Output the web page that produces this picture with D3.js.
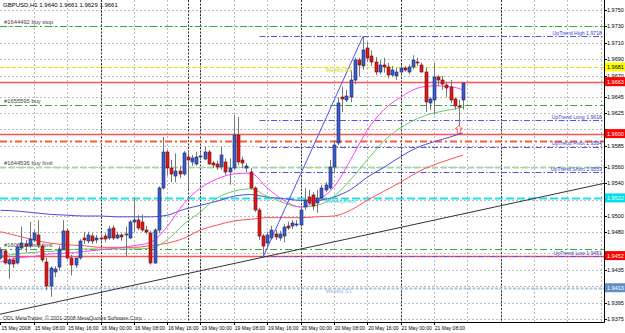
<!DOCTYPE html>
<html>
<head>
<meta charset="utf-8">
<script src="https://cdn.jsdelivr.net/npm/d3@7/dist/d3.min.js"></script>
<style>
  body { margin: 0; background: #fff; }
  text { font-family: "Liberation Sans", Arial, sans-serif; }
</style>
</head>
<body>
<div id="chart"></div>
<script>
// GBPUSD H1 candles, bar 0 = 15 May 2008 00:00
const opens = [
  1.9449,1.9457,1.9442,1.9447,1.9443,1.9461,1.9466,1.9464,1.9471,1.9477,
  1.9464,1.9444,1.9415,1.9432,1.9438,1.9460,1.9482,1.9449,1.9441,1.9449,
  1.9473,1.9470,1.9476,1.9470,1.9473,1.9476,1.9473,1.9485,1.9473,1.9477,
  1.9477,1.9474,1.9493,1.9495,1.9493,1.9483,1.9479,1.9443,1.9483,1.9534,
  1.9578,1.9558,1.9549,1.9555,1.9551,1.9572,1.9565,1.9564,1.9572,1.9570,
  1.9578,1.9564,1.9563,1.9559,1.9565,1.9553,1.9558,1.9598,1.9568,1.9558,
  1.9553,1.9534,1.9507,1.9476,1.9467,1.9473,1.9478,1.9473,1.9476,1.9488,
  1.9487,1.9490,1.9489,1.9510,1.9523,1.9526,1.9516,1.9522,1.9532,1.9534,
  1.9559,1.9589,1.9644,1.9641,1.9644,1.9665,1.9689,1.9681,1.9704,1.9694,
  1.9687,1.9675,1.9683,1.9681,1.9671,1.9670,1.9675,1.9680,1.9675,1.9681,
  1.9687,1.9683,1.9675,1.9637,1.9641,1.9669,1.9665,1.9659,1.9657,1.9642,
  1.9633,1.9640];
const highs = [
  1.9462,1.9460,1.9449,1.9450,1.9465,1.9487,1.9471,1.9493,1.9483,1.9495,
  1.9466,1.9449,1.9439,1.9439,1.9464,1.9495,1.9485,1.9453,1.9449,1.9472,
  1.9481,1.9481,1.9479,1.9477,1.9477,1.9479,1.9488,1.9489,1.9481,1.9479,
  1.9487,1.9495,1.9522,1.9501,1.9502,1.9488,1.9482,1.9485,1.9536,1.9596,
  1.9580,1.9568,1.9576,1.9561,1.9579,1.9580,1.9574,1.9578,1.9578,1.9584,
  1.9580,1.9567,1.9567,1.9584,1.9570,1.9570,1.9623,1.9620,1.9572,1.9564,
  1.9558,1.9536,1.9510,1.9478,1.9481,1.9488,1.9483,1.9482,1.9490,1.9493,
  1.9495,1.9495,1.9511,1.9534,1.9532,1.9529,1.9532,1.9538,1.9541,1.9568,
  1.9592,1.9644,1.9657,1.9653,1.9677,1.9692,1.9692,1.9718,1.9711,1.9701,
  1.9693,1.9689,1.9692,1.9686,1.9682,1.9680,1.9683,1.9682,1.9684,1.9695,
  1.9692,1.9686,1.9680,1.9644,1.9686,1.9671,1.9670,1.9663,1.9665,1.9644,
  1.9641,1.9661];
const lows = [
  1.9447,1.9441,1.9424,1.9437,1.9441,1.9459,1.9456,1.9461,1.9468,1.9462,
  1.9444,1.9410,1.9402,1.9426,1.9434,1.9459,1.9447,1.9428,1.9437,1.9447,
  1.9466,1.9467,1.9466,1.9467,1.9470,1.9468,1.9471,1.9471,1.9472,1.9470,
  1.9451,1.9472,1.9481,1.9483,1.9481,1.9478,1.9441,1.9442,1.9479,1.9532,
  1.9549,1.9541,1.9541,1.9546,1.9549,1.9532,1.9561,1.9561,1.9568,1.9568,
  1.9562,1.9558,1.9556,1.9556,1.9550,1.9538,1.9556,1.9562,1.9558,1.9553,
  1.9532,1.9505,1.9471,1.9450,1.9462,1.9471,1.9471,1.9470,1.9468,1.9483,
  1.9484,1.9487,1.9487,1.9507,1.9513,1.9507,1.9504,1.9519,1.9529,1.9532,
  1.9553,1.9586,1.9626,1.9638,1.9638,1.9660,1.9669,1.9677,1.9687,1.9682,
  1.9671,1.9672,1.9674,1.9667,1.9669,1.9665,1.9672,1.9675,1.9672,1.9678,
  1.9682,1.9674,1.9626,1.9629,1.9623,1.9658,1.9653,1.9644,1.9637,1.9629,
  1.9609,1.9629];
const closes = [
  1.9459,1.9443,1.9447,1.9442,1.9462,1.9467,1.9464,1.9472,1.9479,1.9465,
  1.9447,1.9415,1.9437,1.9436,1.9460,1.9482,1.9449,1.9441,1.9449,1.9470,
  1.9470,1.9477,1.9470,1.9473,1.9472,1.9472,1.9484,1.9473,1.9477,1.9474,
  1.9478,1.9493,1.9495,1.9485,1.9483,1.9481,1.9443,1.9483,1.9534,1.9578,
  1.9558,1.9551,1.9555,1.9551,1.9576,1.9568,1.9570,1.9572,1.9573,1.9578,
  1.9564,1.9562,1.9559,1.9574,1.9553,1.9558,1.9598,1.9565,1.9564,1.9561,
  1.9534,1.9507,1.9476,1.9464,1.9477,1.9483,1.9474,1.9478,1.9487,1.9485,
  1.9491,1.9490,1.9507,1.9519,1.9516,1.9513,1.9522,1.9534,1.9538,1.9559,
  1.9586,1.9637,1.9642,1.9646,1.9665,1.9689,1.9683,1.9701,1.9692,1.9687,
  1.9675,1.9683,1.9681,1.9671,1.9677,1.9675,1.9680,1.9677,1.9681,1.9689,
  1.9686,1.9675,1.9638,1.9642,1.9669,1.9665,1.9660,1.9655,1.9641,1.9633,
  1.9632,1.9661];

// moving averages
const maBars  = [0,4,8,12,16,20,24,28,32,36,40,44,48,52,56,60,64,68,72,76,80,84,88,92,96,100,104,108,111];
const maPink  = [1.9444,1.9449,1.9451,1.9454,1.9455,1.9457,1.9459,1.9461,1.9464,1.9468,1.9487,1.9515,1.9534,1.9545,1.9551,1.9552,1.9534,1.9519,1.9511,1.9519,1.9535,1.9568,1.9604,1.9629,1.9644,1.9655,1.9658,1.9657,1.9653];
const maGreen = [1.9451,1.9454,1.9456,1.9457,1.9459,1.9460,1.9460,1.9460,1.9460,1.9461,1.9471,1.9490,1.9505,1.9522,1.9530,1.9533,1.9524,1.9516,1.9511,1.9513,1.9524,1.9544,1.9568,1.9591,1.9607,1.9618,1.9625,1.9629,1.9632];
const maBlue  = [1.9507,1.9506,1.9504,1.9502,1.9501,1.9500,1.9500,1.9499,1.9499,1.9499,1.9501,1.9508,1.9513,1.9518,1.9524,1.9526,1.9523,1.9521,1.9519,1.9519,1.9523,1.9532,1.9547,1.9559,1.9572,1.9583,1.9590,1.9596,1.9601];
const maRed   = [1.9481,1.9476,1.9471,1.9467,1.9465,1.9464,1.9462,1.9462,1.9462,1.9464,1.9467,1.9473,1.9483,1.9489,1.9494,1.9496,1.9498,1.9498,1.9498,1.9499,1.9500,1.9507,1.9519,1.9530,1.9541,1.9553,1.9562,1.9569,1.9574];

// axes
const yTicks = [1.9750,1.9730,1.9710,1.9690,1.9670,1.9645,1.9625,1.9605,1.9585,1.9560,1.9540,1.9520,1.9500,1.9480,1.9455,1.9435,1.9415,1.9395,1.9375];
const xTickBars = [0,8,16,24,32,40,48,56,64,72,80,88,96,104];
const xTickLabels = ["15 May 2008","15 May 08:00","15 May 16:00","16 May 00:00","16 May 08:00","16 May 16:00",
  "19 May 00:00","19 May 08:00","19 May 16:00","20 May 00:00","20 May 08:00","20 May 16:00","21 May 00:00","21 May 08:00"];
const separatorBars = [24,45,48,72,96,120];

// levels
const orderNames  = ["#1644492 buy stop","#1655595 buy","#1644536 buy limit","#1606526 buy limit"];
const orderLevels = [1.9730,1.9635,1.9559,1.9460];
const upTrendNames  = ["UpTrend High","UpTrend Long","UpTrend Pivot","UpTrend Short","UpTrend Low"];
const upTrendLevels = [1.9718,1.9616,1.9584,1.9553,1.9451];
const upTrendStart = 62;
const redLevels = [1.9663,1.9600,1.9452];
const weeklyNames  = ["Weekly R1","WeeklyPivot","Weekly S1"];
const weeklyLevels = [1.9681,1.9522,1.9413];
const orangeLevel = 1.9591;
const upTrendLine = [[63,1.9450],[87,1.9718]];
const supportLine = [[0,1.9381],[63,1.9450]];
const arrowMark = [110,1.9610];
const symbol = "GBPUSD,H1";

const W = 625, H = 333, plotW = 604, plotH = 322;

const svg = d3.select("#chart").append("svg")
  .attr("width", W).attr("height", H);

const x = d3.scaleLinear().domain([-0.12, 144.84]).range([0, plotW]);
const y = d3.scaleLinear().domain([1.93714, 1.97621]).range([plotH, 0]);
const px = v => Math.round(x(v)) + 0.5;
const py = v => Math.round(y(v)) + 0.5;

svg.append("clipPath").attr("id", "clip")
  .append("rect").attr("width", plotW).attr("height", plotH);
const plot = svg.append("g").attr("clip-path", "url(#clip)");

// grid
plot.selectAll(".hgrid").data(yTicks).enter().append("line")
  .attr("x1", 0).attr("x2", plotW).attr("y1", d => py(d)).attr("y2", d => py(d))
  .attr("stroke", "#bcbcbc").attr("stroke-dasharray", "2,2");
plot.selectAll(".vgrid").data(d3.range(8, 145, 8)).enter().append("line")
  .attr("x1", d => px(d)).attr("x2", d => px(d)).attr("y1", 0).attr("y2", plotH)
  .attr("stroke", "#bcbcbc").attr("stroke-dasharray", "2,2");
plot.selectAll(".sep").data(separatorBars).enter().append("line")
  .attr("x1", d => px(d)).attr("x2", d => px(d)).attr("y1", 0).attr("y2", plotH)
  .attr("stroke", "#333").attr("stroke-dasharray", "2,1.5");

// horizontal levels
function hline(price, x1, color, width, dash) {
  plot.append("line").attr("x1", x1).attr("x2", plotW)
    .attr("y1", py(price)).attr("y2", py(price))
    .attr("stroke", color).attr("stroke-width", width)
    .attr("stroke-dasharray", dash || null);
}
const orderStyle = [["#33aa33",1,"7,3,2,3"],["#33aa33",1,"7,3,2,3"],["#a6d8a6",2,"6,3"],["#33aa33",1,"7,3,2,3"]];
orderLevels.forEach((p, i) => hline(p, 0, orderStyle[i][0], orderStyle[i][1], orderStyle[i][2]));
const weeklyStyle = [["#e6e600",1,"4,2"],["#22e0e8",2,"8,3"],["#a8c4e4",2,"3,1.5"]];
weeklyLevels.forEach((p, i) => hline(p, 0, weeklyStyle[i][0], weeklyStyle[i][1], weeklyStyle[i][2]));
hline(orangeLevel, 0, "#f2603a", 2, "7,3,2,3");
redLevels.forEach(p => hline(p, 0, "#ff5555", 1.5));
upTrendLevels.forEach(p => hline(p, px(upTrendStart), "#5555ee", 1, "6,2,1.5,2"));

// support trend line, extended over the whole plot
const sSlope = (supportLine[1][1] - supportLine[0][1]) / (supportLine[1][0] - supportLine[0][0]);
plot.append("line")
  .attr("x1", x(-1)).attr("y1", y(supportLine[0][1] - sSlope))
  .attr("x2", x(146)).attr("y2", y(supportLine[0][1] + sSlope * 146))
  .attr("stroke", "#333").attr("stroke-width", 1);

// moving averages
const maLine = vals => d3.line().x((d, i) => x(maBars[i])).y(d => y(d)).curve(d3.curveMonotoneX)(vals);
[[maRed, "#ff5050"], [maBlue, "#4a4ae0"], [maGreen, "#66cc66"], [maPink, "#ff40ff"]].forEach(([vals, c]) => {
  plot.append("path").attr("d", maLine(vals)).attr("fill", "none").attr("stroke", c).attr("stroke-width", 1);
});

// uptrend line
plot.append("line")
  .attr("x1", x(upTrendLine[0][0])).attr("y1", y(upTrendLine[0][1]))
  .attr("x2", x(upTrendLine[1][0])).attr("y2", y(upTrendLine[1][1]))
  .attr("stroke", "#5050f0").attr("stroke-width", 1);

// candles
const bars = closes.map((c, i) => ({i, o: opens[i], h: highs[i], l: lows[i], c}));
plot.selectAll(".wick").data(bars).enter().append("line")
  .attr("x1", d => px(d.i)).attr("x2", d => px(d.i))
  .attr("y1", d => y(d.h)).attr("y2", d => y(d.l))
  .attr("stroke", "#777").attr("stroke-width", 1);
plot.selectAll(".body").data(bars).enter().append("rect")
  .attr("x", d => Math.round(x(d.i)) - 1)
  .attr("y", d => Math.round(y(Math.max(d.o, d.c))))
  .attr("width", 3)
  .attr("height", d => Math.max(1, Math.round(Math.abs(y(d.o) - y(d.c)))))
  .attr("fill", d => d.c >= d.o ? "#3d5ccc" : "#e01818")
  .attr("stroke", d => d.c >= d.o ? "#18286a" : "#6a1010")
  .attr("stroke-width", 0.6);

// arrow mark
const ax = x(arrowMark[0]), ay = y(arrowMark[1]);
plot.append("path")
  .attr("d", `M${ax},${ay} l3.5,3.5 h-2 v4.5 h-3 v-4.5 h-2 z`)
  .attr("fill", "#fff").attr("stroke", "#ff3030").attr("stroke-width", 0.8);

// texts inside plot
plot.append("text").attr("x", 3).attr("y", 7).attr("font-size", 6).attr("fill", "#000")
  .text(`${symbol}  ${opens[111].toFixed(4)} ${highs[111].toFixed(4)} ${lows[111].toFixed(4)} ${closes[111].toFixed(4)}`);
orderLevels.forEach((p, i) => {
  plot.append("text").attr("x", 4).attr("y", y(p) - 2).attr("font-size", 5.8).attr("fill", "#444").text(orderNames[i]);
});
upTrendLevels.forEach((p, i) => {
  plot.append("text").attr("x", 602).attr("y", y(p) - 1.5).attr("text-anchor", "end")
    .attr("font-size", 5.2).attr("fill", "#4040c8").text(`${upTrendNames[i]}  ${p.toFixed(4)}`);
});
const weeklyText = ["#d8d800", "#22d0d8", "#98b4d8"];
weeklyLevels.forEach((p, i) => {
  plot.append("text").attr("x", x(78)).attr("y", y(p) + 5).attr("font-size", 5.5)
    .attr("fill", weeklyText[i]).text(weeklyNames[i]);
});
plot.append("text").attr("x", 3).attr("y", 320).attr("font-size", 5.3).attr("fill", "#333")
  .text("ODL MetaTrader, © 2001-2008 MetaQuotes Software Corp.");

// frame
svg.append("line").attr("x1", plotW + 0.5).attr("x2", plotW + 0.5).attr("y1", 0).attr("y2", plotH + 0.5).attr("stroke", "#000");
svg.append("line").attr("x1", 0).attr("x2", plotW + 0.5).attr("y1", plotH + 0.5).attr("y2", plotH + 0.5).attr("stroke", "#000");

// price boxes on the axis hide the tick labels right under them
const boxLevels = redLevels.concat(weeklyLevels);
yTicks.forEach(t => {
  svg.append("line").attr("x1", plotW).attr("x2", plotW + 3).attr("y1", py(t)).attr("y2", py(t)).attr("stroke", "#000");
  const covered = boxLevels.some(b => Math.abs(y(b) - y(t)) < 5);
  if (!covered) {
    svg.append("text").attr("x", 607).attr("y", y(t) + 2).attr("font-size", 5.5).attr("fill", "#000").text(t.toFixed(4));
  }
});

function priceBox(p, bg, fg) {
  svg.append("rect").attr("x", plotW + 1).attr("y", y(p) - 4.5).attr("width", W - plotW - 1).attr("height", 9).attr("fill", bg);
  svg.append("text").attr("x", 607).attr("y", y(p) + 2).attr("font-size", 5.5).attr("fill", fg).text(p.toFixed(4));
}
redLevels.forEach(p => priceBox(p, "#ff0000", "#fff"));
priceBox(weeklyLevels[0], "#ffff00", "#000");
priceBox(weeklyLevels[1], "#00e0e8", "#fff");
priceBox(weeklyLevels[2], "#5f8fc8", "#fff");

// x axis labels
xTickBars.forEach((b, i) => {
  svg.append("line").attr("x1", px(b)).attr("x2", px(b)).attr("y1", plotH).attr("y2", plotH + 3).attr("stroke", "#000");
  svg.append("text").attr("x", x(b) + 1).attr("y", 330).attr("font-size", 5).attr("fill", "#000").text(xTickLabels[i]);
});
</script>
</body>
</html>
